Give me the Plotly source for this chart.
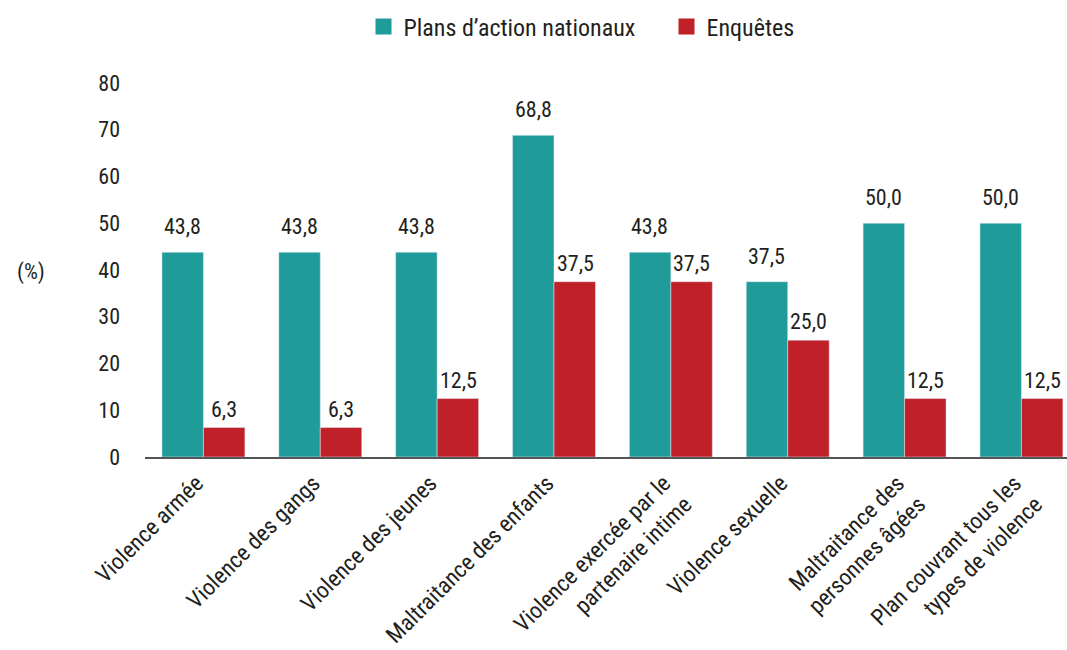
import plotly.graph_objects as go

categories = [
    "Violence armée",
    "Violence des gangs",
    "Violence des jeunes",
    "Maltraitance des enfants",
    "Violence exercée par le<br>partenaire intime",
    "Violence sexuelle",
    "Maltraitance des<br>personnes âgées",
    "Plan couvrant tous les<br>types de violence",
]
plans = [43.8, 43.8, 43.8, 68.8, 43.8, 37.5, 50.0, 50.0]
enquetes = [6.3, 6.3, 12.5, 37.5, 37.5, 25.0, 12.5, 12.5]
series_names = ["Plans d’action nationaux", "Enquêtes"]
y_ticks = [0, 10, 20, 30, 40, 50, 60, 70, 80]

TEAL = "#1f9b99"
RED = "#c02027"
FONT = "Liberation Sans Narrow, Roboto Condensed, Roboto, sans-serif"
TXT = "#231f20"

W, H = 1067, 650
L, R, T, B = 145, 0, 83, 193

fig = go.Figure()
fig.add_trace(go.Bar(x=categories, y=plans, name=series_names[0], marker_color=TEAL, showlegend=False))
fig.add_trace(go.Bar(x=categories, y=enquetes, name=series_names[1], marker_color=RED, showlegend=False))
# legend-only entries with larger square symbols
for nm, col in zip(series_names, [TEAL, RED]):
    fig.add_trace(go.Scatter(x=[None], y=[None], mode="markers", name=nm,
                             marker=dict(symbol="square", size=16, color=col)))

def fmt(v):
    return f"{v:.1f}".replace(".", ",")

annotations = []
for c, v in zip(categories, plans):
    annotations.append(dict(x=c, y=v, xref="x", yref="y", text=fmt(v), showarrow=False,
                            xshift=-21, yshift=11, yanchor="bottom",
                            font=dict(family=FONT, size=22, color=TXT)))
for c, v in zip(categories, enquetes):
    annotations.append(dict(x=c, y=v, xref="x", yref="y", text=fmt(v), showarrow=False,
                            xshift=21, yshift=4, yanchor="bottom",
                            font=dict(family=FONT, size=22, color=TXT)))
annotations.append(dict(x=(31 - L) / (W - L - R), y=(H - B - 272) / (H - T - B),
                        xref="paper", yref="paper", text="(%)", showarrow=False,
                        xanchor="center", yanchor="middle",
                        font=dict(family=FONT, size=22, color=TXT)))

fig.update_layout(
    width=W, height=H,
    margin=dict(l=L, r=R, t=T, b=B),
    paper_bgcolor="white", plot_bgcolor="white",
    barmode="group", bargap=0.29, bargroupgap=0,
    font=dict(family=FONT, size=22, color=TXT),
    legend=dict(orientation="h", xref="container", x=(383.5 - 20) / W, xanchor="left",
                yref="container", y=1 - 27 / H, yanchor="middle",
                font=dict(family=FONT, size=24, color=TXT),
                entrywidth=258, entrywidthmode="pixels", traceorder="normal"),
    annotations=annotations,
    xaxis=dict(showline=True, linecolor="#555555", linewidth=1.5, tickangle=-45,
               range=[-0.5, 7.39], showgrid=False, ticks="", automargin=False,
               ticklabelshift=-7, ticklabelstandoff=2,
               tickfont=dict(family=FONT, size=23, color=TXT)),
    yaxis=dict(range=[0, 80], tickvals=y_ticks, showgrid=False, zeroline=False,
               showline=False, ticks="", ticklabelstandoff=24, automargin=False,
               tickfont=dict(family=FONT, size=22, color=TXT)),
)
fig.write_html("out.html")
